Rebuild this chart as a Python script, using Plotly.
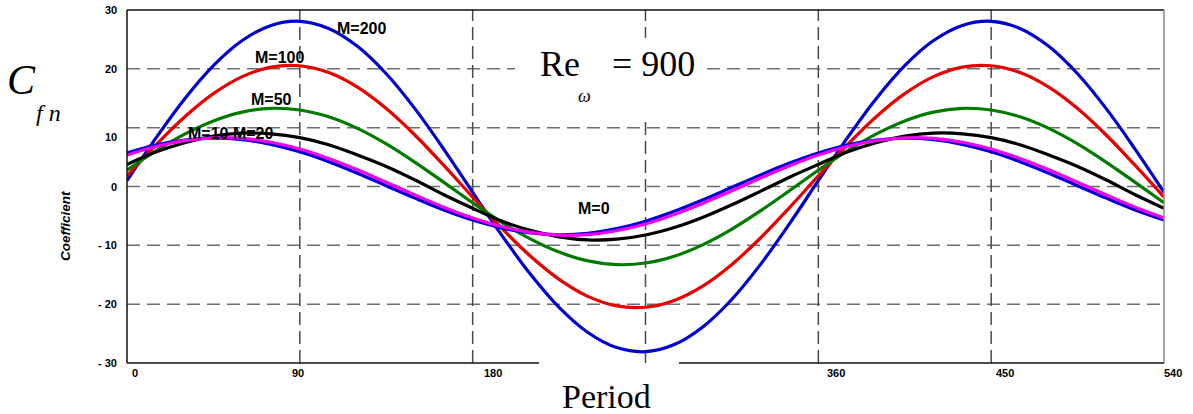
import plotly.graph_objects as go

# ---------------- data ----------------
period = list(range(0, 541, 15))

cf_m0 = [5.70, 7.03, 7.88, 8.20, 7.96, 7.17, 5.90, 4.22, 2.26, 0.14, -1.98, -3.98,
         -5.70, -7.03, -7.88, -8.20, -7.96, -7.17, -5.90, -4.22, -2.26, -0.14, 1.98, 3.98,
         5.70, 7.03, 7.88, 8.20, 7.96, 7.17, 5.90, 4.22, 2.26, 0.14, -1.98, -3.98, -5.70]
cf_m10 = [5.34, 6.80, 7.80, 8.27, 8.17, 7.52, 6.36, 4.76, 2.84, 0.72, -1.44, -3.51,
          -5.34, -6.80, -7.80, -8.27, -8.17, -7.52, -6.36, -4.76, -2.84, -0.72, 1.44, 3.51,
          5.34, 6.80, 7.80, 8.27, 8.17, 7.52, 6.36, 4.76, 2.84, 0.72, -1.44, -3.51, -5.34]
cf_m20 = [3.75, 5.85, 7.45, 8.55, 9.07, 8.96, 8.30, 7.10, 5.35, 3.40, 1.10, -1.40,
          -3.70, -5.85, -7.45, -8.55, -9.07, -8.96, -8.25, -6.97, -5.22, -3.11, -0.79, 1.58,
          3.75, 5.85, 7.45, 8.55, 9.07, 8.96, 8.30, 7.10, 5.35, 3.40, 1.10, -1.40, -3.70]
cf_m50 = [2.77, 6.04, 8.90, 11.15, 12.65, 13.28, 13.01, 11.85, 9.88, 7.24, 4.11, 0.70,
          -2.77, -6.04, -8.90, -11.15, -12.65, -13.28, -13.01, -11.85, -9.88, -7.24, -4.11, -0.70,
          2.77, 6.04, 8.90, 11.15, 12.65, 13.28, 13.01, 11.85, 9.88, 7.24, 4.11, 0.70, -2.77]
cf_m100 = [1.80, 7.05, 11.82, 15.78, 18.67, 20.29, 20.52, 19.36, 16.88, 13.24, 8.71, 3.58,
           -1.80, -7.05, -11.82, -15.78, -18.67, -20.29, -20.52, -19.36, -16.88, -13.24, -8.71, -3.58,
           1.80, 7.05, 11.82, 15.78, 18.67, 20.29, 20.52, 19.36, 16.88, 13.24, 8.71, 3.58, -1.80]
cf_m200 = [0.98, 8.22, 14.89, 20.55, 24.81, 27.38, 28.08, 26.87, 23.83, 19.16, 13.19, 6.32,
           -0.98, -8.22, -14.89, -20.55, -24.81, -27.38, -28.08, -26.87, -23.83, -19.16, -13.19, -6.32,
           0.98, 8.22, 14.89, 20.55, 24.81, 27.38, 28.08, 26.87, 23.83, 19.16, 13.19, 6.32, -0.98]

x_ticks = [0, 90, 180, 360, 450, 540]
x_tick_text = ["0", "90", "180", "360", "450", "540"]
y_ticks = [30, 20, 10, 0, -10, -20, -30]
y_tick_text = ["30", "20", "10", "0", "- 10", "- 20", "- 30"]
grid_x = [90, 180, 270, 360, 450]
grid_y = [20, 10, 0, -10, -20]

series_names = ["M=200", "M=100", "M=50", "M=20", "M=0", "M=10"]
series_values = [cf_m200, cf_m100, cf_m50, cf_m20, cf_m0, cf_m10]
series_colors = ["#0000D0", "#E80000", "#007A00", "#000000", "#0000D0", "#F000F0"]

# ---------------- layout helpers ----------------
W, H = 1193, 414
L, R, T, B = 127, 1164, 10, 363


def px(xp):
    return (xp - L) / (R - L)


def py(yp):
    return (B - yp) / (B - T)


fig = go.Figure()
for name, vals, col in zip(series_names, series_values, series_colors):
    fig.add_trace(go.Scatter(x=period, y=vals, mode="lines", name=name,
                             line=dict(color=col, width=3.2, shape="spline"),
                             showlegend=False, hoverinfo="skip"))

shapes = []
for gy in grid_y:
    shapes.append(dict(type="line", xref="paper", yref="y", x0=0, x1=1, y0=gy, y1=gy,
                       line=dict(color="#6e6e6e", width=1.5, dash="13px,7px"), layer="below"))
for gx in grid_x:
    shapes.append(dict(type="line", xref="x", yref="paper", x0=gx, x1=gx, y0=0, y1=1,
                       line=dict(color="#4a4a4a", width=1.5, dash="13px,6px"), layer="below"))
# white box behind the Re label
shapes.append(dict(type="rect", xref="paper", yref="paper", x0=px(515), x1=px(702),
                   y0=py(117), y1=py(38), fillcolor="white", line=dict(width=0), layer="below"))
# frame
shapes.append(dict(type="line", xref="paper", yref="paper", x0=0, x1=0, y0=0, y1=1,
                   line=dict(color="#111111", width=1.5)))
shapes.append(dict(type="line", xref="paper", yref="paper", x0=0, x1=1, y0=1, y1=1,
                   line=dict(color="#111111", width=1.5)))
shapes.append(dict(type="line", xref="paper", yref="paper", x0=1, x1=1, y0=0, y1=1,
                   line=dict(color="#8a8a8a", width=1.5)))
shapes.append(dict(type="line", xref="paper", yref="paper", x0=0, x1=px(539), y0=0, y1=0,
                   line=dict(color="#111111", width=1.5)))
shapes.append(dict(type="line", xref="paper", yref="paper", x0=px(679), x1=1, y0=0, y1=0,
                   line=dict(color="#111111", width=1.5)))

ann = []
tick_font = dict(family="Liberation Sans, Arial", size=11, color="black")
x_shift = [8, -2, 20, 18, 14, 9]
for v, t, s in zip(x_ticks, x_tick_text, x_shift):
    ann.append(dict(x=v, y=0, xref="x", yref="paper", text="<b>%s</b>" % t, showarrow=False,
                    xanchor="center", yanchor="top", xshift=s, yshift=-2, font=tick_font))
for v, t in zip(y_ticks, y_tick_text):
    ann.append(dict(x=0, y=v, xref="paper", yref="y", text="<b>%s</b>" % t, showarrow=False,
                    xanchor="right", yanchor="middle", xshift=-8,
                    yshift=(-9 if v == 10 else 0), font=tick_font))

lab_font = dict(family="Liberation Sans, Arial", size=16, color="black")
labels = [("M=200", 361, 28), ("M=100", 279, 58), ("M=50", 271, 99),
          ("M=10 M=20", 230, 133), ("M=0", 594, 208)]
for t, xx, yy in labels:
    ann.append(dict(x=px(xx), y=py(yy), xref="paper", yref="paper", text="<b>%s</b>" % t,
                    showarrow=False, xanchor="center", yanchor="middle", font=lab_font))

serif = "Liberation Serif, Times New Roman, serif"
ann.append(dict(x=px(21), y=py(80), xref="paper", yref="paper", text="<i>C</i>", showarrow=False,
                xanchor="center", yanchor="middle", font=dict(family=serif, size=42, color="black")))
ann.append(dict(x=px(48), y=py(113), xref="paper", yref="paper", text="<i>f n</i>", showarrow=False,
                xanchor="center", yanchor="middle", font=dict(family=serif, size=24, color="black")))
ann.append(dict(x=px(560), y=py(64), xref="paper", yref="paper", text="Re", showarrow=False,
                xanchor="center", yanchor="middle", font=dict(family=serif, size=36, color="black")))
ann.append(dict(x=px(584), y=py(96), xref="paper", yref="paper", text="<i>ω</i>", showarrow=False,
                xanchor="center", yanchor="middle", font=dict(family=serif, size=18, color="black")))
ann.append(dict(x=px(653), y=py(64), xref="paper", yref="paper", text="= 900", showarrow=False,
                xanchor="center", yanchor="middle", font=dict(family=serif, size=36, color="black")))
ann.append(dict(x=px(606), y=py(396), xref="paper", yref="paper", text="Period", showarrow=False,
                xanchor="center", yanchor="middle", font=dict(family=serif, size=34, color="black")))
ann.append(dict(x=px(66), y=py(226), xref="paper", yref="paper", text="<b><i>Coefficient</i></b>",
                showarrow=False, textangle=-90, xanchor="center", yanchor="middle",
                font=dict(family="Liberation Sans, Arial", size=13.5, color="black")))

fig.update_layout(
    width=W, height=H,
    margin=dict(l=L, r=W - R, t=T, b=H - B, pad=0),
    paper_bgcolor="white", plot_bgcolor="white",
    xaxis=dict(range=[0, 540], showgrid=False, zeroline=False, showticklabels=False,
               ticks="", showline=False, fixedrange=True),
    yaxis=dict(range=[-30, 30], showgrid=False, zeroline=False, showticklabels=False,
               ticks="", showline=False, fixedrange=True),
    shapes=shapes, annotations=ann, showlegend=False,
)

fig.write_html("out.html", config={"displayModeBar": False},
               post_script="document.body.style.margin='0';document.body.style.overflow='hidden';")
